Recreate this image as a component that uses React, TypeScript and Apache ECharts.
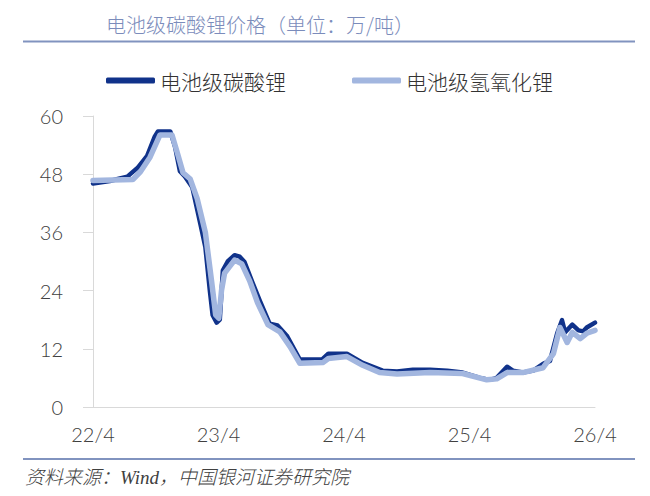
import React, { useEffect, useRef } from "react";
import * as echarts from "echarts";

const titleText = "电池级碳酸锂价格（单位：万/吨）";
const sourceText = "资料来源：Wind，中国银河证券研究院";
const seriesNames = ["电池级碳酸锂", "电池级氢氧化锂"];

const carbonateDates = [
  "2022-04-01", "2022-05-20", "2022-06-12", "2022-07-10", "2022-08-10", "2022-09-05", "2022-09-28", "2022-10-07",
  "2022-11-12", "2022-11-26", "2022-12-10", "2022-12-25", "2023-01-15", "2023-02-08", "2023-02-22", "2023-03-07",
  "2023-03-15", "2023-03-27", "2023-04-05", "2023-04-14", "2023-04-28", "2023-05-18", "2023-06-02", "2023-06-16",
  "2023-07-10", "2023-07-30", "2023-08-28", "2023-09-20", "2023-10-17", "2023-11-24", "2024-01-28", "2024-02-15",
  "2024-04-09", "2024-05-25", "2024-07-22", "2024-09-02", "2024-10-18", "2024-12-07", "2025-01-26", "2025-03-12",
  "2025-05-01", "2025-05-30", "2025-06-19", "2025-07-19", "2025-08-05", "2025-09-03", "2025-10-03", "2025-11-01",
  "2025-11-21", "2025-12-12", "2025-12-26", "2026-01-04", "2026-01-25", "2026-02-12", "2026-02-26", "2026-03-08",
  "2026-04-01",
];
const carbonateValues = [
  46.1, 46.6, 47.0, 47.5, 49.4, 51.7, 55.8, 56.8,
  56.8, 53.6, 48.6, 47.5, 45.3, 37.6, 33, 24,
  19, 17.4, 18, 28.2, 30, 31.3, 31, 29.9,
  25.5, 22, 17.2, 16.8, 14.7, 9.8, 9.8, 11,
  11, 9.1, 7.5, 7.3, 7.7, 7.7, 7.5, 7.1,
  6.0, 5.6, 6.0, 8.3, 7.5, 7.1, 7.5, 8.9,
  9.5, 15.2, 17.9, 15.4, 17, 15.8, 15.6, 16.4,
  17.4,
];

const hydroxideDates = [
  "2022-04-01", "2022-07-26", "2022-08-17", "2022-09-14", "2022-10-13", "2022-11-17", "2022-12-04", "2022-12-19",
  "2023-01-09", "2023-01-29", "2023-02-22", "2023-03-12", "2023-03-24", "2023-04-02", "2023-04-10", "2023-04-19",
  "2023-05-18", "2023-06-08", "2023-07-01", "2023-07-24", "2023-08-23", "2023-09-27", "2023-10-26", "2023-11-24",
  "2024-01-31", "2024-02-15", "2024-04-09", "2024-05-25", "2024-07-13", "2024-09-02", "2024-12-07", "2025-03-12",
  "2025-05-21", "2025-06-19", "2025-07-19", "2025-09-03", "2025-11-01", "2025-12-01", "2025-12-20", "2026-01-10",
  "2026-01-25", "2026-02-17", "2026-03-08", "2026-04-01",
];
const hydroxideValues = [
  46.7, 46.9, 48.5, 51.5, 56.1, 56.1, 52, 48.3,
  47, 43, 36, 26, 19, 18.3, 24, 27.6,
  30.3, 29.5, 26, 21.5, 17, 15.5, 12.5, 9,
  9.2, 10, 10.4, 8.6, 7.1, 6.8, 7.1, 6.9,
  5.6, 5.8, 7.1, 7.1, 8.1, 11, 16.4, 13.3,
  15.4, 14.1, 15.2, 15.8,
];

const xStart = "2022-04-01";
const xEnd = "2026-04-01";
const yTicks = [0, 12, 24, 36, 48, 60];

const toMs = (d: string) => Date.parse(d + "T00:00:00Z");

export default function App() {
  const ref = useRef<HTMLDivElement>(null);

  useEffect(() => {
    if (!ref.current) return;
    const chart = echarts.init(ref.current, null, { renderer: "svg" });
    const minX = toMs(xStart);
    const maxX = toMs(xEnd);
    const carbonate = carbonateDates.map((d, i) => [toMs(d), carbonateValues[i]]);
    const hydroxide = hydroxideDates.map((d, i) => [toMs(d), hydroxideValues[i]]);
    const axisFont = "Lato, 'Noto Sans', sans-serif";
    const cjkFont = "'Noto Sans CJK SC', sans-serif";
    chart.setOption({
      animation: false,
      backgroundColor: "#ffffff",
      title: {
        text: titleText,
        left: 101,
        top: 9,
        textStyle: {
          fontSize: 20,
          fontWeight: 300,
          color: "#7b8cbb",
          fontFamily: cjkFont,
        },
      },
      legend: {
        data: seriesNames,
        left: 101,
        top: 65,
        icon: "roundRect",
        itemWidth: 49,
        itemHeight: 6,
        itemGap: 66,
        textStyle: {
          fontSize: 21,
          fontWeight: 300,
          color: "#333333",
          fontFamily: cjkFont,
        },
      },
      grid: { left: 93, right: 55, top: 116, bottom: 89, containLabel: false },
      xAxis: {
        type: "value",
        min: minX,
        max: maxX,
        interval: (maxX - minX) / 4,
        axisLine: { show: true, lineStyle: { color: "#d9d9d9", width: 1 } },
        axisTick: { show: false },
        splitLine: { show: false },
        axisLabel: {
          margin: 17,
          fontSize: 20,
          fontWeight: 300,
          color: "#404040",
          fontFamily: axisFont,
          formatter: (v: number) => {
            const d = new Date(v + 15 * 86400000);
            return String(d.getUTCFullYear() % 100) + "/" + String(d.getUTCMonth() + 1);
          },
        },
      },
      yAxis: {
        type: "value",
        min: yTicks[0],
        max: yTicks[yTicks.length - 1],
        interval: yTicks[1] - yTicks[0],
        axisLine: { show: true, lineStyle: { color: "#d9d9d9", width: 1 } },
        axisTick: { show: true, length: 10, inside: false, lineStyle: { color: "#d9d9d9" } },
        splitLine: { show: false },
        axisLabel: {
          margin: 30,
          fontSize: 20,
          fontWeight: 300,
          color: "#404040",
          fontFamily: axisFont,
        },
      },
      series: [
        {
          name: seriesNames[0],
          type: "line",
          data: carbonate,
          showSymbol: false,
          symbol: "none",
          color: "#10328a",
          lineStyle: { width: 4.5, color: "#10328a", cap: "round", join: "round" },
          z: 2,
        },
        {
          name: seriesNames[1],
          type: "line",
          data: hydroxide,
          showSymbol: false,
          symbol: "none",
          color: "#a2b6df",
          lineStyle: { width: 5.5, color: "#a2b6df", cap: "round", join: "round" },
          z: 3,
        },
      ],
      graphic: [
        {
          type: "line",
          shape: { x1: 23, y1: 41.5, x2: 635, y2: 41.5 },
          style: { stroke: "#8193bf", lineWidth: 2 },
          silent: true,
        },
        {
          type: "line",
          shape: { x1: 23, y1: 459, x2: 635, y2: 459 },
          style: { stroke: "#8193bf", lineWidth: 2 },
          silent: true,
        },
        {
          type: "text",
          x: 25,
          y: 477,
          style: {
            text: sourceText,
            fontSize: 19,
            fontStyle: "italic",
            fontWeight: 300,
            fill: "#404040",
            fontFamily: "'Liberation Serif', 'Noto Sans CJK SC', serif",
            verticalAlign: "middle",
            align: "left",
          },
          silent: true,
        },
      ],
    });
    return () => chart.dispose();
  }, []);

  return (
    <div
      ref={ref}
      style={{ position: "absolute", left: 0, top: 0, width: 650, height: 496 }}
    />
  );
}
